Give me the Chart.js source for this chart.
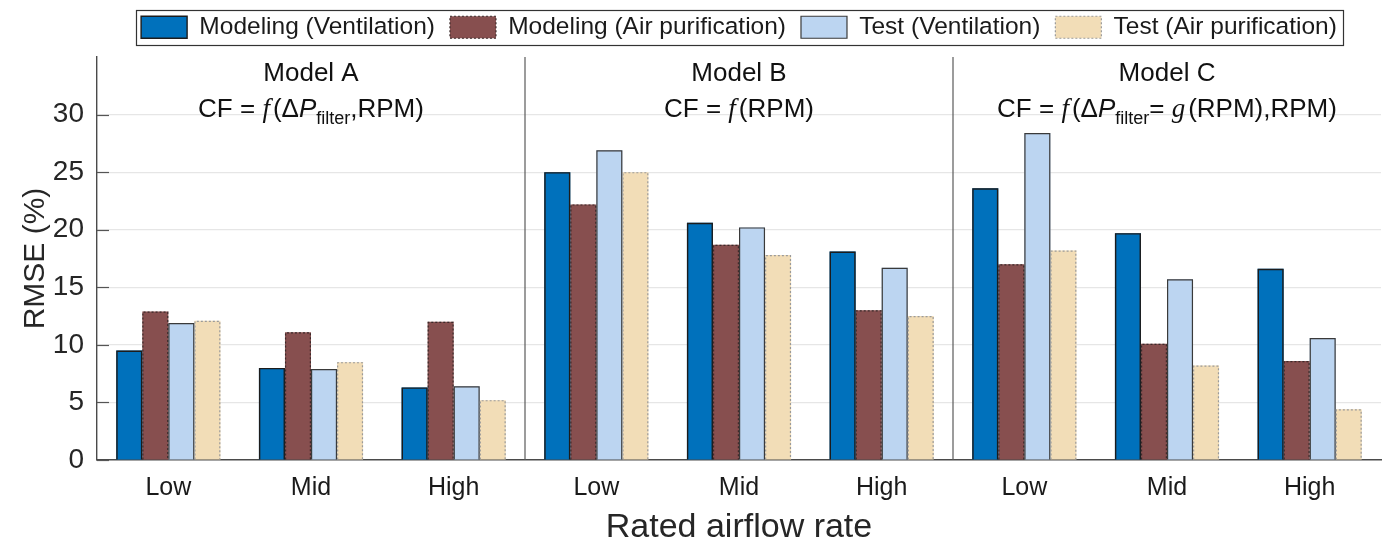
<!DOCTYPE html>
<html>
<head>
<meta charset="utf-8">
<script src="https://cdn.jsdelivr.net/npm/chart.js@4/dist/chart.umd.min.js"></script>
<style>
  html, body { margin: 0; padding: 0; background: #ffffff; }
  #wrap { width: 1384px; height: 545px; }
</style>
</head>
<body>
<div id="wrap"><canvas id="chart" width="1384" height="545"></canvas></div>
<script>
// Categories along the x axis (three airflow levels for each of the three models)
const categories = ['Low', 'Mid', 'High', 'Low', 'Mid', 'High', 'Low', 'Mid', 'High'];
const modelNames = ['Model A', 'Model B', 'Model C'];
const seriesNames = ['Modeling (Ventilation)', 'Modeling (Air purification)', 'Test (Ventilation)', 'Test (Air purification)'];

// RMSE (%) per category
const modelingVentilation = [9.5, 8.0, 6.3, 25.0, 20.6, 18.1, 23.6, 19.7, 16.6];
const modelingAirPurification = [12.9, 11.1, 12.0, 22.2, 18.7, 13.0, 17.0, 10.1, 8.6];
const testVentilation = [11.9, 7.9, 6.4, 26.9, 20.2, 16.7, 28.4, 15.7, 10.6];
const testAirPurification = [12.1, 8.5, 5.2, 25.0, 17.8, 12.5, 18.2, 8.2, 4.4];

const yTickValues = [0, 5, 10, 15, 20, 25, 30];

// Correction-factor formula for each model, as [text, style] runs
const formulas = [
  [['CF = ', 'txt'], ['f', 'fn'], ['(\u0394', 'txt'], ['P', 'var'], ['filter', 'sub'], [',RPM)', 'txt']],
  [['CF = ', 'txt'], ['f', 'fn'], ['(RPM)', 'txt']],
  [['CF = ', 'txt'], ['f', 'fn'], ['(\u0394', 'txt'], ['P', 'var'], ['filter', 'sub'], ['= ', 'txt'], ['g', 'fn'], ['(RPM),RPM)', 'txt']]
];

const fills = ['#0071bc', '#874f4f', '#bcd5f1', '#f2ddb7'];
const outlines = [
  { color: '#1c1c1c', width: 1.4, dash: [] },
  { color: '#3b2b2b', width: 1.2, dash: [2, 2] },
  { color: '#3a3a3a', width: 1.2, dash: [] },
  { color: '#9a9a9a', width: 1.2, dash: [2, 2] }
];

const SANS = '"Liberation Sans", Arial, Helvetica, sans-serif';
Chart.defaults.font.family = SANS;
Chart.defaults.color = '#262626';

// Reserve room under the legend so the plot starts lower
const legendSpacePlugin = {
  id: 'legendSpace',
  afterInit(chart) {
    const lg = chart.legend;
    if (!lg) return;
    const fit = lg.fit.bind(lg);
    lg.fit = function () {
      fit();
      this.height = Math.max(this.height, 57);
    };
  }
};

// Outlines on the bars (solid or dotted), leaving the base open
const barOutlinePlugin = {
  id: 'barOutline',
  afterDatasetsDraw(chart) {
    const ctx = chart.ctx;
    chart.data.datasets.forEach((ds, i) => {
      const st = outlines[i];
      const meta = chart.getDatasetMeta(i);
      ctx.save();
      ctx.strokeStyle = st.color;
      ctx.lineWidth = st.width;
      ctx.setLineDash(st.dash);
      meta.data.forEach(el => {
        const p = el.getProps(['x', 'y', 'base', 'width'], true);
        const h = st.width / 2;
        const l = p.x - p.width / 2 + h;
        const r = p.x + p.width / 2 - h;
        ctx.beginPath();
        ctx.moveTo(l, p.base);
        ctx.lineTo(l, p.y + h);
        ctx.lineTo(r, p.y + h);
        ctx.lineTo(r, p.base);
        ctx.stroke();
      });
      ctx.restore();
    });
  }
};

// Inward tick marks, model dividers, model headings and formulas, legend frame
const decorPlugin = {
  id: 'decor',
  afterDraw(chart) {
    const ctx = chart.ctx;
    const area = chart.chartArea;
    const xs = chart.scales.x;
    const ys = chart.scales.y;

    ctx.save();
    // tick marks pointing into the plot
    ctx.strokeStyle = '#555555';
    ctx.lineWidth = 1.2;
    yTickValues.forEach(v => {
      const y = Math.round(ys.getPixelForValue(v)) + 0.5;
      ctx.beginPath();
      ctx.moveTo(area.left, y);
      ctx.lineTo(area.left + 12, y);
      ctx.stroke();
    });

    // dividers between the three models
    ctx.strokeStyle = '#5a5a5a';
    ctx.lineWidth = 1.2;
    for (let m = 0; m < modelNames.length - 1; m++) {
      const x = (xs.getPixelForValue(3 * m + 2) + xs.getPixelForValue(3 * m + 3)) / 2;
      ctx.beginPath();
      ctx.moveTo(x, area.top);
      ctx.lineTo(x, area.bottom);
      ctx.stroke();
    }

    // headings
    ctx.fillStyle = '#111111';
    ctx.textBaseline = 'alphabetic';
    ctx.textAlign = 'left';
    const runFont = {
      txt: '26px ' + SANS,
      fn: 'italic 27px "Liberation Serif", "Times New Roman", serif',
      var: 'italic 26px ' + SANS,
      sub: '18px ' + SANS
    };
    const runDy = { txt: 0, fn: 0, var: 0, sub: 7 };
    modelNames.forEach((name, m) => {
      const cx = xs.getPixelForValue(3 * m + 1);
      ctx.font = '26px ' + SANS;
      ctx.textAlign = 'center';
      ctx.fillText(name, cx, 81);
      ctx.textAlign = 'left';
      const runs = formulas[m];
      let total = 0;
      const widths = runs.map(([t, s]) => {
        ctx.font = runFont[s];
        const w = ctx.measureText(t).width + (s === 'fn' ? 3 : 0);
        total += w;
        return w;
      });
      let x = cx - total / 2;
      runs.forEach(([t, s], k) => {
        ctx.font = runFont[s];
        ctx.fillText(t, x, 117 + runDy[s]);
        x += widths[k];
      });
    });

    // frame around the legend
    const lg = chart.legend;
    if (lg && lg.legendHitBoxes && lg.legendHitBoxes.length) {
      const hb = lg.legendHitBoxes;
      const left = Math.min(...hb.map(b => b.left)) - 5;
      const right = Math.max(...hb.map(b => b.left + b.width)) + 6;
      const top = hb[0].top - 5;
      const bottom = hb[0].top + hb[0].height + 5;
      ctx.strokeStyle = '#333333';
      ctx.lineWidth = 1.2;
      ctx.strokeRect(Math.round(left) + 0.5, Math.round(top) + 0.5, Math.round(right - left), Math.round(bottom - top));
    }
    ctx.restore();
  }
};

const seriesValues = [modelingVentilation, modelingAirPurification, testVentilation, testAirPurification];

new Chart(document.getElementById('chart'), {
  type: 'bar',
  data: {
    labels: categories,
    datasets: seriesNames.map((name, i) => ({
      label: name,
      data: seriesValues[i],
      backgroundColor: fills[i],
      borderWidth: 0,
      categoryPercentage: 0.73,
      barPercentage: 1.0
    }))
  },
  options: {
    responsive: false,
    devicePixelRatio: 1,
    animation: false,
    layout: { padding: { left: 0, right: 3, top: 0, bottom: 0 } },
    plugins: {
      tooltip: { enabled: false },
      legend: {
        position: 'top',
        fullSize: false,
        labels: {
          font: { size: 24.5 },
          color: '#1a1a1a',
          boxWidth: 46,
          boxHeight: 22,
          padding: 15,
          generateLabels(chart) {
            const items = Chart.defaults.plugins.legend.labels.generateLabels(chart);
            items.forEach((it, i) => {
              it.strokeStyle = outlines[i].color;
              it.lineWidth = outlines[i].width;
              it.lineDash = outlines[i].dash;
            });
            return items;
          }
        }
      }
    },
    scales: {
      x: {
        grid: { display: false, drawTicks: false },
        border: { display: true, color: '#4a4a4a', width: 1.4 },
        ticks: { font: { size: 25 }, color: '#1a1a1a', padding: 13, maxRotation: 0, autoSkip: false },
        title: { display: true, text: 'Rated airflow rate', font: { size: 34 }, color: '#262626', padding: { top: 0, bottom: -3 } },
        afterFit(scale) { scale.height = 85; }
      },
      y: {
        min: 0,
        max: 35,
        afterBuildTicks(scale) { scale.ticks = yTickValues.map(v => ({ value: v })); },
        grid: {
          drawTicks: false,
          color: ctx => (ctx.tick && ctx.tick.value === 0) ? 'rgba(0,0,0,0)' : '#e6e6e6',
          lineWidth: 1.2
        },
        border: { display: true, color: '#4a4a4a', width: 1.4 },
        ticks: { font: { size: 28 }, color: '#262626', padding: 13 },
        title: { display: true, text: 'RMSE (%)', font: { size: 30 }, color: '#262626', padding: { top: 18, bottom: 0 } },
        afterFit(scale) { scale.width = 97; }
      }
    }
  },
  plugins: [legendSpacePlugin, barOutlinePlugin, decorPlugin]
});
</script>
</body>
</html>
